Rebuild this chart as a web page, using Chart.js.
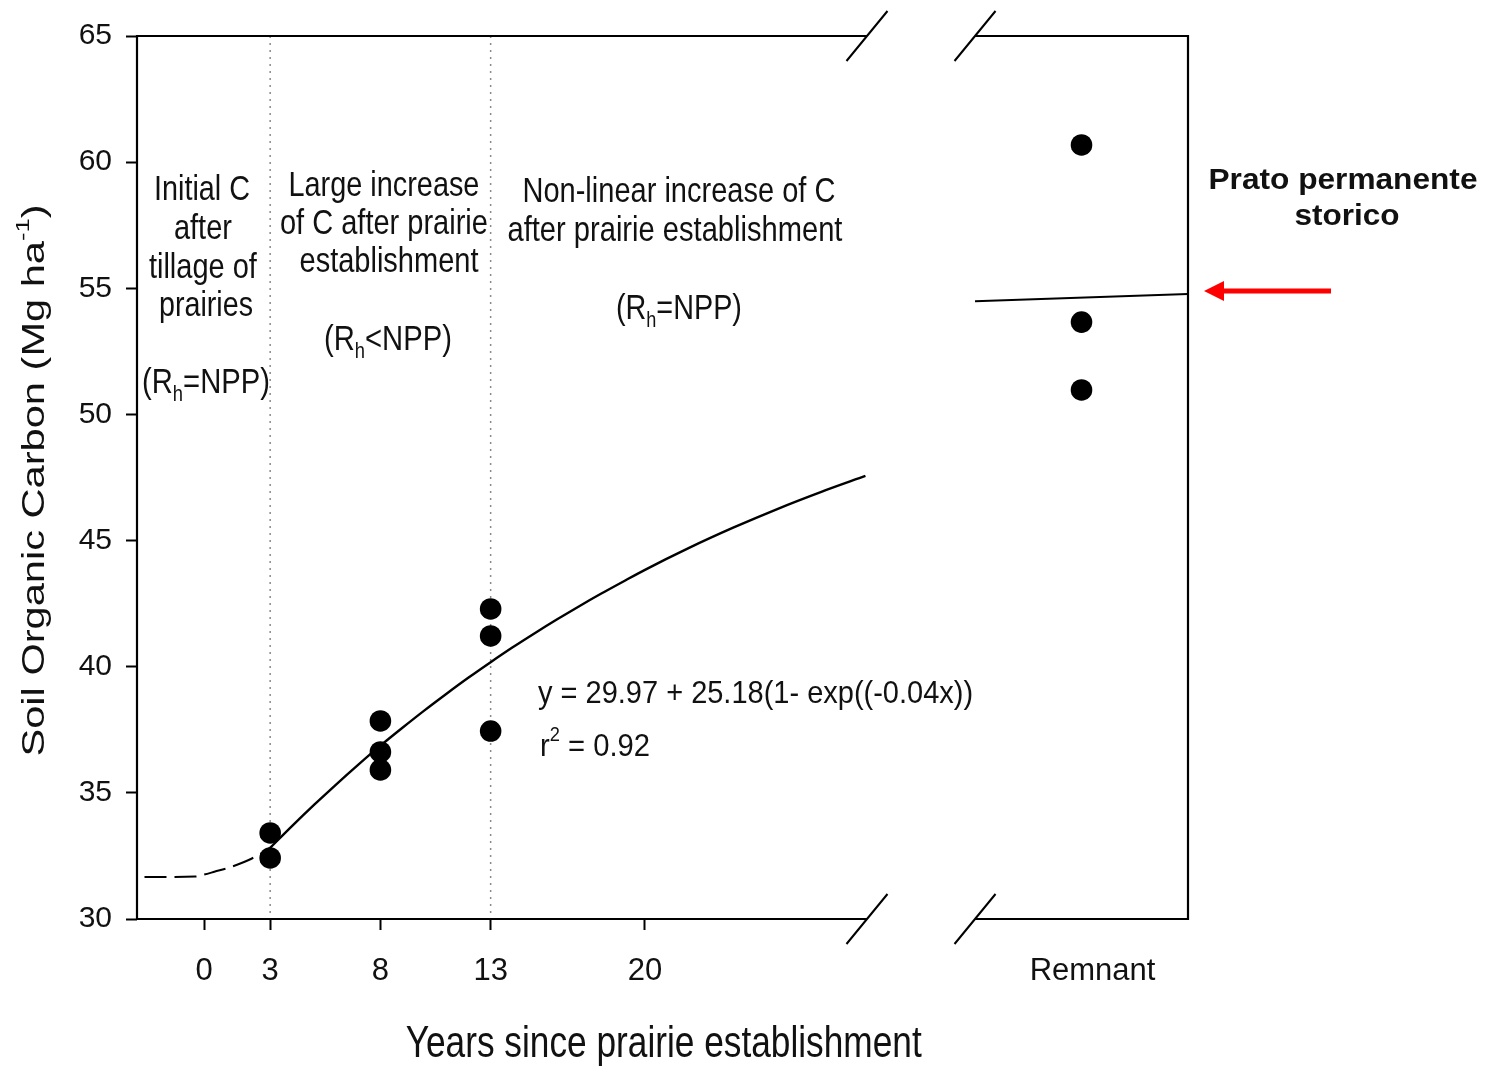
<!DOCTYPE html>
<html><head><meta charset="utf-8">
<script src="https://cdn.jsdelivr.net/npm/chart.js@4.4.1/dist/chart.umd.min.js"></script>
<style>html,body{margin:0;padding:0;background:#fff}#wrap{width:1487px;height:1067px;position:relative}</style>
</head><body><div id="wrap"><canvas id="c"></canvas></div>
<script>
// ---- data ----
const pointX = [3, 3, 8, 8, 8, 13, 13, 13];
const pointY = [33.41, 32.42, 37.85, 36.62, 35.91, 42.29, 41.22, 37.45];
const remnantX = 39.8;
const remnantY = [60.68, 53.66, 50.97];
const fitX = [3, 4, 5, 6, 7, 8, 9, 10, 11, 12, 13, 14, 15, 16, 17, 18, 19, 20, 22, 24, 26, 28, 30];
const fitY = [32.82, 33.69, 34.53, 35.34, 36.12, 36.87, 37.58, 38.27, 38.93, 39.57, 40.18, 40.77, 41.33, 41.87, 42.39, 42.89, 43.37, 43.84, 44.71, 45.51, 46.25, 46.93, 47.56];
const earlyX = [-2.7, -0.4, 0, 0.5, 1, 1.5, 2, 2.5, 3];
const earlyY = [31.66, 31.68, 31.76, 31.88, 32.0, 32.15, 32.33, 32.55, 32.83];
const remnantLineX = [34.97, 44.63];
const remnantLineY = [54.49, 54.77];
const yTicks = [30, 35, 40, 45, 50, 55, 60, 65];
const xTickValues = [0, 3, 8, 13, 20];
const xTickLabels = ['0', '3', '8', '13', '20'];
const remnantLabel = 'Remnant';
const remnantLabelX = 40.3;
const phaseLines = [3, 13];
const breakStart = 30.07, breakEnd = 34.97;
const xMin = -3.04, xMax = 44.63, yMin = 30, yMax = 65;

const yTitle = 'Soil Organic Carbon (Mg ha^{-1})';
const xTitle = 'Years since prairie establishment';
// text, x (years), y (SOC), width px, size, align
const notes = [
  ['Initial C', -0.09, 58.89, 96, 35, 'center'],
  ['after', -0.05, 57.35, 58, 35, 'center'],
  ['tillage of', -0.05, 55.80, 108, 35, 'center'],
  ['prairies', 0.09, 54.30, 94, 35, 'center'],
  ['(R_{h}=NPP)', 0.09, 51.24, 128, 35, 'center'],
  ['Large increase', 8.16, 59.05, 191, 35, 'center'],
  ['of C after prairie', 8.16, 57.55, 208, 35, 'center'],
  ['establishment', 8.39, 56.04, 179, 35, 'center'],
  ['(R_{h}<NPP)', 8.34, 52.95, 128, 35, 'center'],
  ['Non-linear increase of C', 21.54, 58.81, 313, 35, 'center'],
  ['after prairie establishment', 21.36, 57.27, 335, 35, 'center'],
  ['(R_{h}=NPP)', 21.54, 54.18, 126, 35, 'center'],
  ['y = 29.97 + 25.18(1- exp((-0.04x))', 15.15, 38.92, 435, 32, 'left'],
  ['r^{2} = 0.92', 15.24, 36.82, 110, 32, 'left']
];
const sideNote = ['Prato permanente', 'storico'];
const sideNoteY = [59.25, 57.82];
const arrowY = 54.89;

const REG = '"Liberation Sans", Arial, sans-serif';

function parseRich(str) {
  const segs = []; const re = /([_^])\{([^}]*)\}/g; let last = 0, m;
  while ((m = re.exec(str))) {
    if (m.index > last) segs.push({t: str.slice(last, m.index)});
    segs.push({t: m[2], sub: m[1] === '_', sup: m[1] === '^'});
    last = re.lastIndex;
  }
  if (last < str.length) segs.push({t: str.slice(last)});
  return segs;
}
function richText(ctx, str, x, y, width, size, family, weight, align, rot) {
  const segs = parseRich(str);
  ctx.save();
  const fontFor = s => `${weight || 'normal'} ${(s.sub || s.sup) ? Math.round(size * 0.62) : size}px ${family}`;
  let total = 0;
  segs.forEach(s => { ctx.font = fontFor(s); s.w = ctx.measureText(s.t).width; total += s.w; });
  const k = width ? width / total : 1;
  ctx.translate(x, y);
  if (rot) ctx.rotate(rot);
  ctx.scale(k, 1);
  let start = align === 'center' ? -total / 2 : align === 'right' ? -total : 0;
  ctx.textBaseline = 'middle'; ctx.textAlign = 'left'; ctx.fillStyle = '#111';
  segs.forEach(s => {
    ctx.font = fontFor(s);
    const dy = s.sub ? size * 0.33 : s.sup ? -size * 0.36 : 0;
    ctx.fillText(s.t, start, dy); start += s.w;
  });
  ctx.restore();
}

const decor = {
  id: 'decor',
  beforeDatasetsDraw(chart) {
    const {ctx, chartArea: a, scales: {x}} = chart;
    ctx.save();
    ctx.strokeStyle = '#8a8a8a'; ctx.lineWidth = 1.5; ctx.setLineDash([2, 5]);
    phaseLines.forEach(v => {
      const px = x.getPixelForValue(v);
      ctx.beginPath(); ctx.moveTo(px, a.top); ctx.lineTo(px, a.bottom); ctx.stroke();
    });
    ctx.restore();
  },
  afterDatasetsDraw(chart) {
    const {ctx, chartArea: a, scales: {x, y}} = chart;
    const b1 = x.getPixelForValue(breakStart), b2 = x.getPixelForValue(breakEnd);
    ctx.save();
    ctx.strokeStyle = '#000'; ctx.lineWidth = 2.2; ctx.setLineDash([]);
    ctx.beginPath();
    ctx.moveTo(a.left, a.top - 1); ctx.lineTo(a.left, a.bottom + 1);
    ctx.moveTo(a.right, a.top - 1); ctx.lineTo(a.right, a.bottom + 1);
    [a.top, a.bottom].forEach(yy => {
      ctx.moveTo(a.left, yy); ctx.lineTo(b1, yy);
      ctx.moveTo(b2, yy); ctx.lineTo(a.right, yy);
    });
    ctx.stroke();
    ctx.lineWidth = 2;
    ctx.beginPath();
    [a.top, a.bottom].forEach(yy => {
      [b1, b2].forEach(xx => { ctx.moveTo(xx - 20.5, yy + 25); ctx.lineTo(xx + 20.5, yy - 25); });
    });
    ctx.stroke();
    ctx.restore();
  },
  afterDraw(chart) {
    const {ctx, chartArea: a, scales: {x, y}} = chart;
    notes.forEach(n => {
      richText(ctx, n[0], x.getPixelForValue(n[1]), y.getPixelForValue(n[2]), n[3], n[4], REG, 'normal', n[5]);
    });
    // axis titles
    richText(ctx, yTitle, 35, (a.top + a.bottom) / 2 + 3, 552, 31, REG, 'normal', 'center', -Math.PI / 2);
    richText(ctx, xTitle, x.getPixelForValue(20.85), a.bottom + 126, 516, 44, REG, 'normal', 'center');
    // side note
    const cx = a.right + 155;
    richText(ctx, sideNote[0], cx, y.getPixelForValue(sideNoteY[0]), 269, 29, REG, 'bold', 'center');
    richText(ctx, sideNote[1], cx + 4, y.getPixelForValue(sideNoteY[1]), 105, 29, REG, 'bold', 'center');
    // red arrow
    const ay = y.getPixelForValue(arrowY);
    const tip = a.right + 16, tail = a.right + 143;
    ctx.save();
    ctx.fillStyle = '#ff0000'; ctx.strokeStyle = '#ff0000';
    ctx.lineWidth = 5; ctx.beginPath(); ctx.moveTo(tail, ay); ctx.lineTo(tip + 16, ay); ctx.stroke();
    ctx.beginPath(); ctx.moveTo(tip, ay); ctx.lineTo(tip + 20, ay - 10); ctx.lineTo(tip + 20, ay + 10); ctx.closePath(); ctx.fill();
    ctx.restore();
  }
};

const toPts = (xs, ys) => xs.map((v, i) => ({x: v, y: ys[i]}));
const scatterPts = toPts(pointX, pointY).concat(remnantY.map(v => ({x: remnantX, y: v})));

new Chart(document.getElementById('c'), {
  type: 'scatter',
  data: {
    datasets: [
      {data: toPts(fitX, fitY), showLine: true, borderColor: '#000', borderWidth: 2.4, pointRadius: 0, cubicInterpolationMode: 'monotone', order: 3},
      {data: toPts(earlyX, earlyY), showLine: true, borderColor: '#000', borderWidth: 2, borderDash: [22, 8], pointRadius: 0, cubicInterpolationMode: 'monotone', order: 3},
      {data: toPts(remnantLineX, remnantLineY), showLine: true, borderColor: '#000', borderWidth: 2, pointRadius: 0, order: 3},
      {data: scatterPts, showLine: false, pointRadius: 10.8, pointBackgroundColor: '#000', pointBorderWidth: 0, pointBorderColor: '#000', order: 1}
    ]
  },
  options: {
    responsive: true, maintainAspectRatio: false, animation: false,
    layout: {padding: {top: 36, right: 299, bottom: 0, left: 0}},
    plugins: {legend: {display: false}, tooltip: {enabled: false}},
    scales: {
      x: {
        type: 'linear', min: xMin, max: xMax,
        afterBuildTicks: s => { s.ticks = xTickValues.concat([remnantLabelX]).map(v => ({value: v})); },
        afterFit: s => { s.height = 148; },
        ticks: {
          autoSkip: false, maxRotation: 0, padding: 23, color: '#111',
          font: {family: REG, size: 31},
          callback: (v, i) => i < xTickLabels.length ? xTickLabels[i] : remnantLabel
        },
        grid: {display: true, drawOnChartArea: false, drawTicks: true, tickLength: 11, tickWidth: 2,
          tickColor: c => (c.tick && c.tick.value > breakEnd) ? 'rgba(0,0,0,0)' : '#000'},
        border: {display: false}
      },
      y: {
        type: 'linear', min: yMin, max: yMax,
        afterBuildTicks: s => { s.ticks = yTicks.map(v => ({value: v})); },
        afterFit: s => { s.width = 137; },
        ticks: {padding: 14, color: '#111', font: {family: REG, size: 30}},
        grid: {display: true, drawOnChartArea: false, drawTicks: true, tickLength: 11, tickWidth: 2, tickColor: '#000'},
        border: {display: false}
      }
    }
  },
  plugins: [decor]
});
</script></body></html>
